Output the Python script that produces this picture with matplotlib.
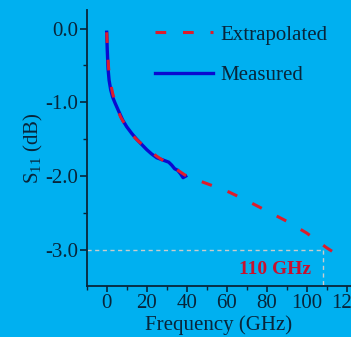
import matplotlib
matplotlib.use('Agg')
import matplotlib.pyplot as plt

# measured S11 (GHz, dB)
meas_f = [0, 0.3, 0.7, 1.2, 2, 3, 4.2, 6, 8, 10, 12.5, 15, 17.5, 20, 22.5,
          25, 27, 29, 31, 32.5, 34, 35.5, 37, 38.2, 39.5]
meas_s = [-0.05, -0.3, -0.55, -0.7, -0.83, -0.93, -1.01, -1.12, -1.24, -1.33,
          -1.42, -1.5, -1.57, -1.64, -1.7, -1.75, -1.77, -1.79, -1.81, -1.85,
          -1.9, -1.92, -1.97, -2.02, -2.0]

# extrapolated S11
ext_f = [0, 0.5, 1, 2, 3, 5, 7, 10, 13, 16, 20, 25, 30, 35, 40, 50, 60, 70,
         80, 90, 100, 105, 110, 114, 117]
ext_s = [-0.05, -0.35, -0.55, -0.75, -0.88, -1.07, -1.2, -1.34, -1.45, -1.53,
         -1.62, -1.73, -1.82, -1.91, -2.0, -2.1, -2.2, -2.33, -2.47, -2.61,
         -2.77, -2.87, -2.97, -3.04, -3.11]

cut_f = 108
cut_s = -3.0
xticks = [0, 20, 40, 60, 80, 100, 120]
yticks = [0.0, -1.0, -2.0, -3.0]

bg = '#00b0f0'
ink = '#08253a'
fs = 15

plt.rcParams['font.family'] = ['Liberation Serif', 'DejaVu Serif']
plt.rcParams['mathtext.fontset'] = 'custom'
plt.rcParams['mathtext.rm'] = 'Liberation Serif'
plt.rcParams['mathtext.it'] = 'Liberation Serif:italic'

fig = plt.figure(figsize=(3.51, 3.37), dpi=100, facecolor=bg)
ax = fig.add_axes([0.247, 0.151, 0.753, 0.819])
ax.set_facecolor(bg)

ax.plot(ext_f, ext_s, color='#dd1c2c', lw=2.2, linestyle=(0, (3.5, 5.5)),
        label='Extrapolated', zorder=3)
ax.plot(meas_f, meas_s, color='#0a0ad0', lw=2.4, label='Measured', zorder=2)

ax.plot([-10, cut_f], [cut_s, cut_s], color='#c8cccc', lw=1, linestyle=(0, (3, 2.5)), zorder=1)
ax.plot([cut_f, cut_f], [cut_s, -3.49], color='#c8cccc', lw=1, linestyle=(0, (3, 2.5)), zorder=1)
ax.text(84, -3.26, '110 GHz', color='#c8102e', fontsize=14, fontweight='bold',
        ha='center', va='center')

ax.set_xlim(-10, 122.2)
ax.set_ylim(-3.49, 0.25)
ax.set_xticks(xticks)
ax.set_xticks(range(-10, 121, 10), minor=True)
ax.set_yticks(yticks)
ax.set_yticklabels(['%.1f' % v for v in yticks])
ax.set_yticks([-0.5, -1.5, -2.5], minor=True)

for s in ['top', 'right']:
    ax.spines[s].set_visible(False)
for s in ['left', 'bottom']:
    ax.spines[s].set_color(ink)
    ax.spines[s].set_linewidth(1.3)

ax.tick_params(which='major', direction='out', length=5, width=1.2, colors=ink,
               labelsize=fs, pad=1)
ax.tick_params(which='minor', direction='out', length=3, width=1.0, colors=ink)
ax.tick_params(axis='x', which='major', length=4, pad=2)

ax.set_xlabel('Frequency (GHz)', fontsize=fs, color=ink, labelpad=1)
ax.set_ylabel('S$_{\\mathrm{11}}$ (dB)', fontsize=fs, color=ink, labelpad=0)

leg = ax.legend(loc='upper left', bbox_to_anchor=(155 / 351, 1 - 25 / 337),
                bbox_transform=fig.transFigure, frameon=False, borderpad=0,
                fontsize=fs, handlelength=2.8, handletextpad=0.33,
                labelspacing=1.0, borderaxespad=0)
for t in leg.get_texts():
    t.set_color(ink)

fig.savefig('out.png', dpi=100, facecolor=bg)
